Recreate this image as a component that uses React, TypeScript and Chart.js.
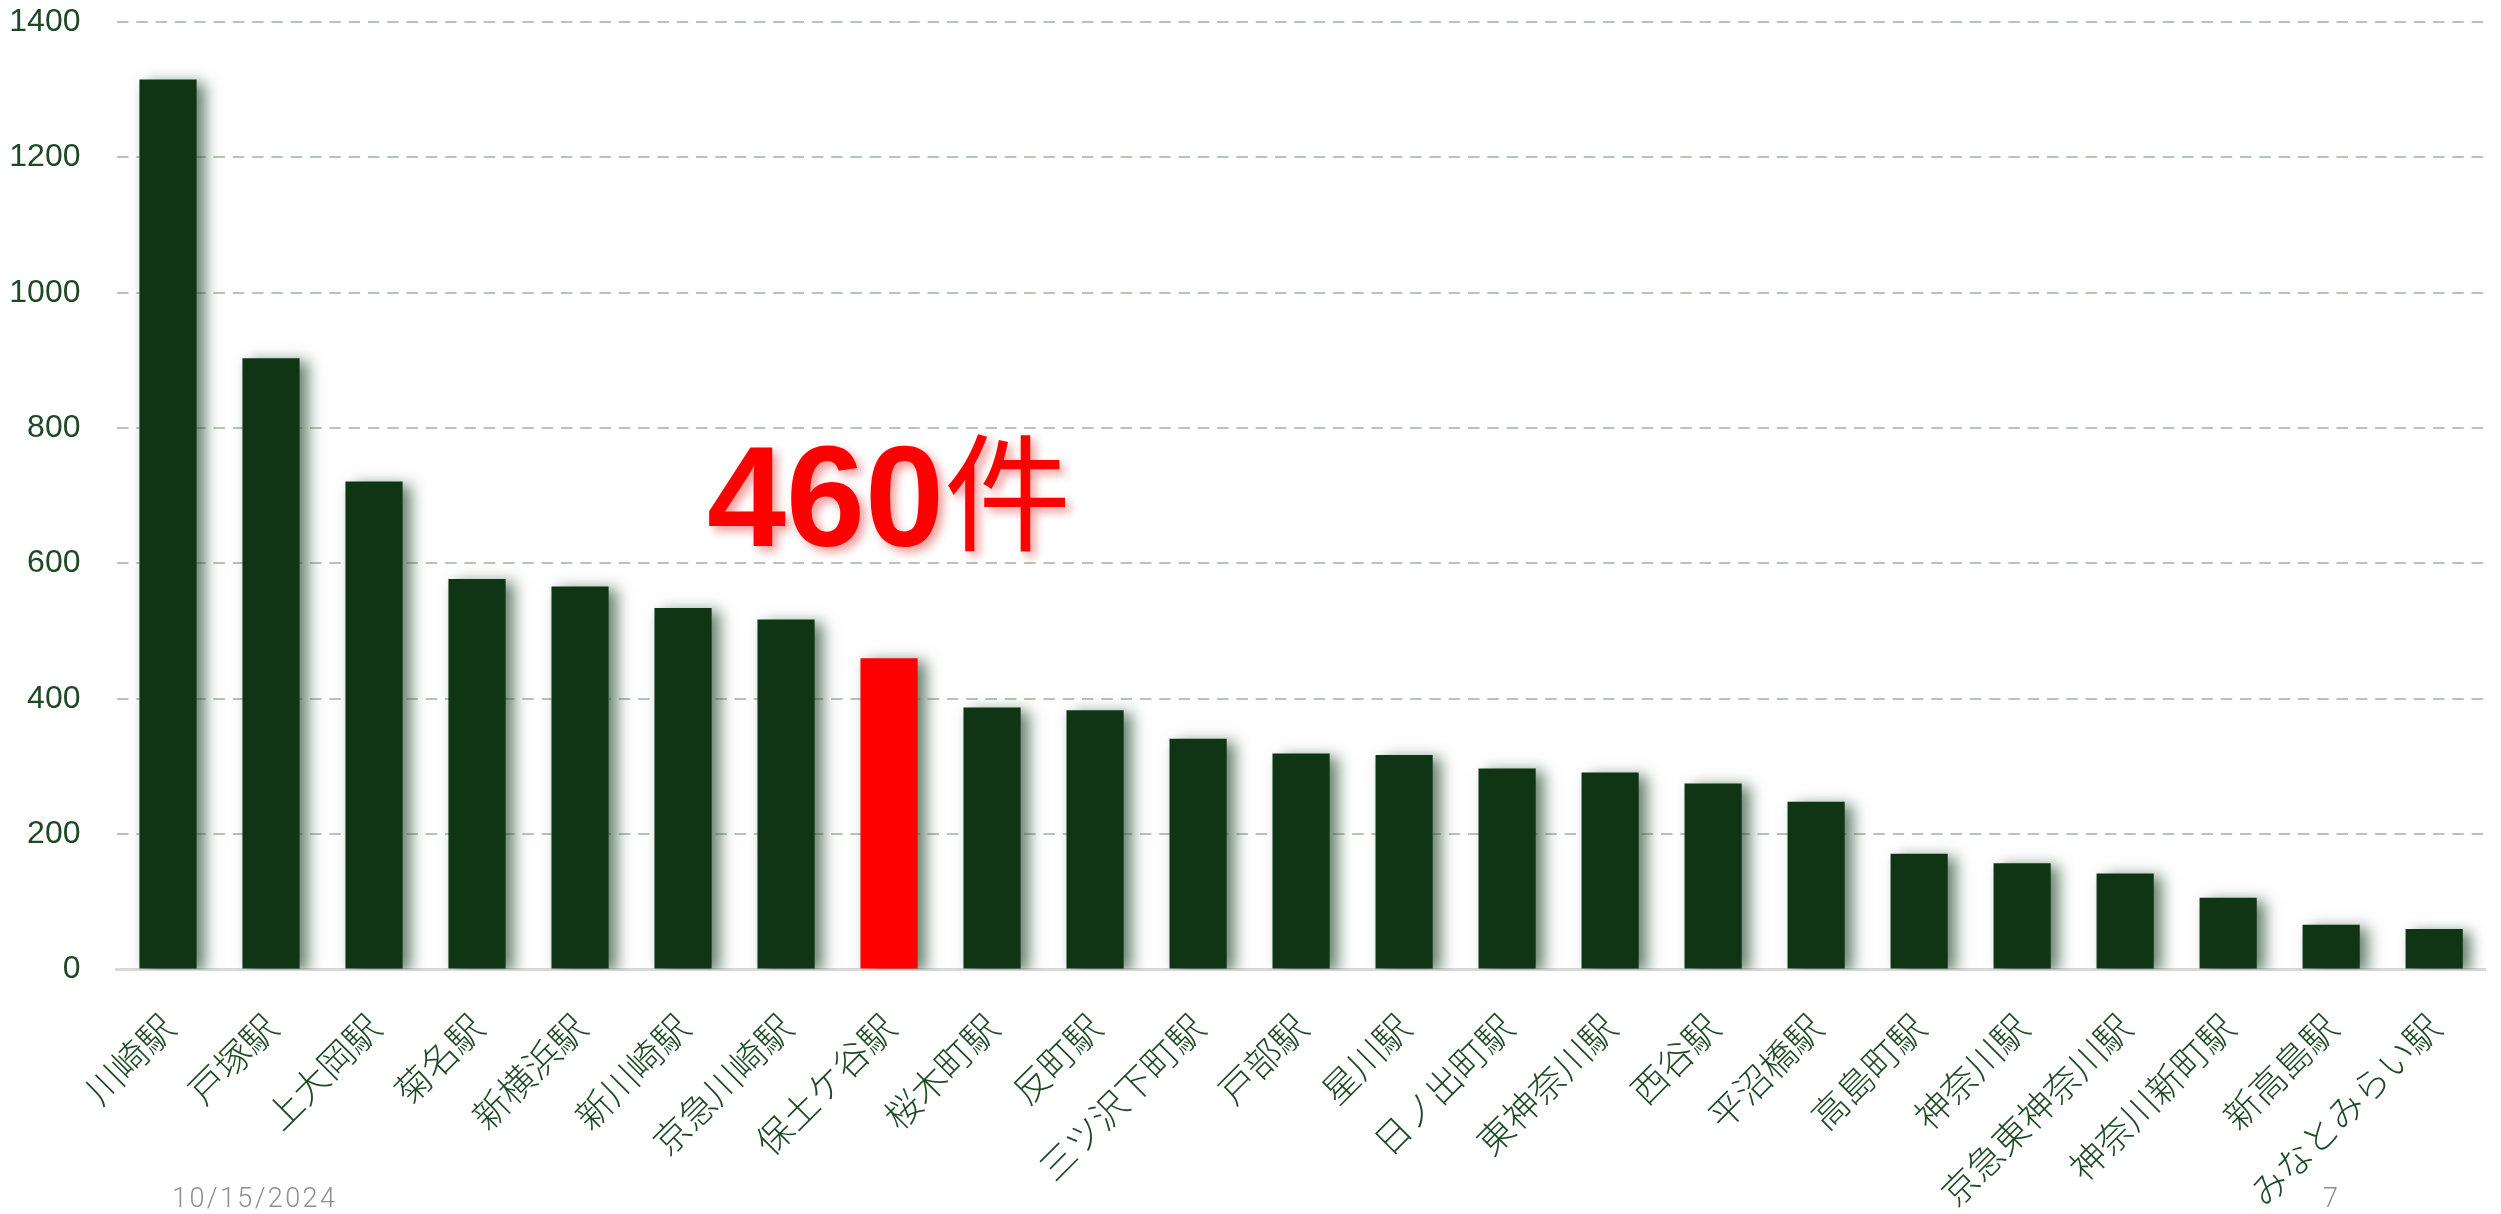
import React, { useEffect, useRef } from 'react';
import { Chart, registerables } from 'chart.js';

Chart.register(...registerables);

// ---- data ----
const stations: string[] = [
  '川崎駅', '戸塚駅', '上大岡駅', '菊名駅', '新横浜駅', '新川崎駅', '京急川崎駅', '保土ケ谷駅',
  '桜木町駅', '反町駅', '三ツ沢下町駅', '戸部駅', '星川駅', '日ノ出町駅', '東神奈川駅', '西谷駅',
  '平沼橋駅', '高島町駅', '神奈川駅', '京急東神奈川駅', '神奈川新町駅', '新高島駅', 'みなとみらい駅',
];
const counts: number[] = [
  1315, 903, 721, 577, 566, 534, 517, 460,
  387, 383, 341, 319, 317, 297, 291, 275,
  248, 171, 157, 142, 106, 66, 60,
];
const highlightIndex = 7;
const yTickValues: number[] = [0, 200, 400, 600, 800, 1000, 1200, 1400];
const calloutNumber = '460';
const calloutUnit = '件';
const footerDate = '10/15/2024';
const footerPage = '7';

const W = 2501;
const H = 1214;

const GREEN = '#0f3515';
const RED = '#ff0000';
const TEXT_GREEN = '#1d4a24';

const barShadowPlugin = {
  id: 'barShadow',
  beforeDatasetsDraw(chart: any) {
    const ctx = chart.ctx;
    ctx.save();
    ctx.shadowColor = 'rgba(35,75,45,0.7)';
    ctx.shadowBlur = 14;
    ctx.shadowOffsetX = 8;
    ctx.shadowOffsetY = 3;
  },
  afterDatasetsDraw(chart: any) {
    chart.ctx.restore();
  },
};

const calloutPlugin = {
  id: 'callout',
  afterDraw(chart: any) {
    const ctx = chart.ctx;
    const xs = chart.scales.x;
    const ys = chart.scales.y;
    const cx = xs.getPixelForValue(highlightIndex);
    const baseY = ys.getPixelForValue(counts[highlightIndex]) - 112;
    const numFont = 'bold 142px "Liberation Sans", Arial, sans-serif';
    const unitFont = '400 127px "Noto Sans CJK JP", sans-serif';
    ctx.save();
    ctx.font = numFont;
    const w1 = ctx.measureText(calloutNumber).width;
    ctx.font = unitFont;
    const w2 = ctx.measureText(calloutUnit).width;
    const start = cx - (w1 + w2) / 2;
    ctx.shadowColor = 'rgba(225,30,30,0.45)';
    ctx.shadowBlur = 10;
    ctx.shadowOffsetX = 5;
    ctx.shadowOffsetY = 5;
    ctx.fillStyle = RED;
    ctx.textAlign = 'left';
    ctx.textBaseline = 'alphabetic';
    ctx.font = numFont;
    ctx.fillText(calloutNumber, start, baseY);
    ctx.font = unitFont;
    ctx.textBaseline = 'middle';
    ctx.fillText(calloutUnit, start + w1, baseY - 53);
    ctx.restore();
  },
};

export default function App() {
  const canvasRef = useRef<HTMLCanvasElement | null>(null);

  useEffect(() => {
    const canvas = canvasRef.current;
    if (!canvas) return;
    const chart = new Chart(canvas, {
      type: 'bar',
      data: {
        labels: stations,
        datasets: [
          {
            data: counts,
            backgroundColor: counts.map((_, i) => (i === highlightIndex ? RED : GREEN)),
            borderWidth: 0,
            categoryPercentage: 1,
            barPercentage: 0.555,
          },
        ],
      },
      options: {
        responsive: false,
        maintainAspectRatio: false,
        animation: false,
        devicePixelRatio: 1,
        layout: { padding: { top: 22, right: 13, left: 0, bottom: 0 } },
        plugins: {
          legend: { display: false },
          tooltip: { enabled: false },
        },
        scales: {
          x: {
            grid: { display: false, drawTicks: false },
            border: { display: true, color: '#d9d9d9', width: 3 },
            ticks: {
              autoSkip: false,
              minRotation: 45,
              maxRotation: 45,
              padding: 36,
              color: TEXT_GREEN,
              font: { family: '"Noto Sans CJK JP", sans-serif', size: 36, weight: '300' },
            },
            afterFit(scale: any) {
              scale.height = H - 969.5;
            },
          },
          y: {
            min: 0,
            max: 1400,
            afterBuildTicks(scale: any) {
              scale.ticks = yTickValues.map((v) => ({ value: v }));
            },
            grid: {
              drawTicks: false,
              lineWidth: 2,
              color: (c: any) => (c.tick && c.tick.value === 0 ? 'rgba(0,0,0,0)' : '#b7c5b8'),
            },
            border: { display: false, dash: [11.5, 7.8] },
            ticks: {
              padding: 36,
              color: TEXT_GREEN,
              font: { family: '"Liberation Sans", Arial, sans-serif', size: 32 },
              callback: (v: any) => String(v),
            },
            afterFit(scale: any) {
              scale.width = 116.5;
              scale.paddingTop = 0;
              scale.paddingBottom = 0;
            },
          },
        },
      },
      plugins: [barShadowPlugin, calloutPlugin],
    } as any);
    return () => chart.destroy();
  }, []);

  const footerStyle: React.CSSProperties = {
    position: 'absolute',
    top: 1185,
    fontFamily: 'Roboto, "Liberation Sans", sans-serif',
    fontWeight: 300,
    fontSize: 27,
    lineHeight: '27px',
    letterSpacing: '2.4px',
    color: '#8f8f8f',
    whiteSpace: 'nowrap',
  };

  return (
    <div style={{ position: 'absolute', left: 0, top: 0, width: W, height: H, background: '#ffffff', overflow: 'hidden' }}>
      <canvas ref={canvasRef} width={W} height={H} style={{ display: 'block', width: W, height: H }} />
      <div style={{ ...footerStyle, left: 172 }}>{footerDate}</div>
      <div style={{ ...footerStyle, left: 2323 }}>{footerPage}</div>
    </div>
  );
}
